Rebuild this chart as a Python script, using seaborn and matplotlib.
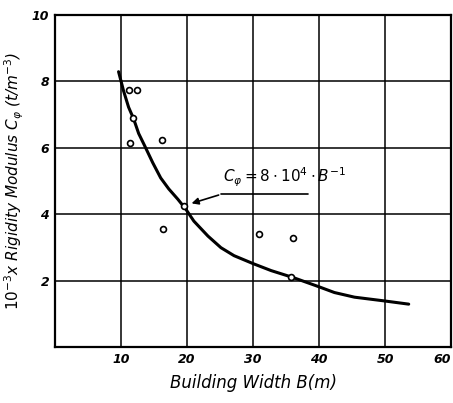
import numpy as np
import pandas as pd
import matplotlib.pyplot as plt
import seaborn as sns

# measured building data (B in m, C_phi in 10^3 t/m^3)
width_pts = [11.2, 12.4, 11.8, 11.4, 16.2, 19.5, 16.4, 30.9, 36.1, 35.8]
modulus_pts = [7.74, 7.74, 6.9, 6.15, 6.23, 4.24, 3.55, 3.4, 3.28, 2.1]

# hand-drawn fitted curve
curve_b = [9.65, 10.41, 11.17, 11.93, 12.69, 13.6, 14.82, 16.03, 17.25, 18.62, 19.83,
           21.05, 23.18, 25.15, 27.13, 30.02, 32.75, 36.09, 39.89, 42.32,
           45.36, 49.77, 53.57]
curve_c = [8.29, 7.71, 7.22, 6.87, 6.43, 6.06, 5.55, 5.09, 4.76, 4.45, 4.15,
           3.79, 3.34, 2.99, 2.75, 2.51, 2.30, 2.09, 1.82, 1.64,
           1.50, 1.39, 1.29]

x_ticks = [10, 20, 30, 40, 50, 60]
y_ticks = [2, 4, 6, 8, 10]

sns.set_style("white")
plt.rcParams['font.family'] = ['DejaVu Sans']
plt.rcParams['text.color'] = 'black'
plt.rcParams['axes.labelcolor'] = 'black'
plt.rcParams['xtick.color'] = 'black'
plt.rcParams['ytick.color'] = 'black'

pts = pd.DataFrame({"B": width_pts, "C": modulus_pts})
crv = pd.DataFrame({"B": curve_b, "C": curve_c})

fig = plt.figure(figsize=(4.53, 4.03), dpi=100)
ax = fig.add_axes([0.121, 0.139, 0.875, 0.824])

sns.lineplot(data=crv, x="B", y="C", ax=ax, color="black", lw=2.2, sort=False)
sns.scatterplot(data=pts, x="B", y="C", ax=ax, marker="o", s=18,
                facecolors="white", edgecolor="black", linewidth=1.2, zorder=5)

ax.set_xlim(0, 60)
ax.set_ylim(0, 10)
ax.set_xticks(x_ticks)
ax.set_yticks(y_ticks)
ax.set_xticklabels([str(t) for t in x_ticks], fontstyle="italic", fontweight="bold", fontsize=9)
ax.set_yticklabels([str(t) for t in y_ticks], fontstyle="italic", fontweight="bold", fontsize=9)
ax.get_xticklabels()[-1].set_horizontalalignment("right")
ax.tick_params(length=0, pad=4)
ax.grid(True, color="black", lw=1.1)
for s in ax.spines.values():
    s.set_color("black")
    s.set_linewidth(1.6)

ax.set_xlabel("Building Width B(m)", fontstyle="italic", fontsize=12, labelpad=6)
ax.set_ylabel(r"$10^{-3}$x Rigidity Modulus $C_\varphi$ (t/m$^{-3}$)",
              fontstyle="italic", fontsize=11, labelpad=4)

# formula annotation with leader line
ax.plot([25.2, 38.3], [4.6, 4.6], color="black", lw=1.2)
ax.annotate("", xy=(20.3, 4.3), xytext=(25.2, 4.6),
            arrowprops=dict(arrowstyle="-|>", color="black", lw=1.2, mutation_scale=10))
ax.text(25.5, 4.75, r"$C_\varphi = 8\cdot10^4\cdot B^{-1}$", fontsize=11,
        fontstyle="italic", ha="left", va="bottom")

fig.savefig("out.png", dpi=100)
